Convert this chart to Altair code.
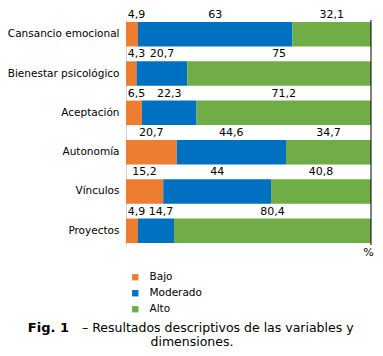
import altair as alt
import pandas as pd

categorias = ["Cansancio emocional", "Bienestar psicológico", "Aceptación",
              "Autonomía", "Vínculos", "Proyectos"]
niveles = ["Bajo", "Moderado", "Alto"]
bajo = [4.9, 4.3, 6.5, 20.7, 15.2, 4.9]
moderado = [63, 20.7, 22.3, 44.6, 44, 14.7]
alto = [32.1, 75, 71.2, 34.7, 40.8, 80.4]
colores = ["#ED7D31", "#0070C0", "#70AD47"]
caption_bold = "Fig. 1"
caption_line1 = "– Resultados descriptivos de las variables y"
caption_line2 = "dimensiones."

FONT = "DejaVu Sans"


def fmt(v):
    return f"{v:g}".replace(".", ",")


rows = []
for i, c in enumerate(categorias):
    start = 0.0
    prev = -100.0
    for j, (n, v) in enumerate(zip(niveles, [bajo[i], moderado[i], alto[i]])):
        mid = start + v / 2
        lab = max(mid, 4.3, prev + 10)
        rows.append(dict(cat=c, nivel=n, orden=j, valor=v, x0=start,
                         x1=start + v, lx=lab, txt=fmt(v)))
        prev = lab
        start += v
df = pd.DataFrame(rows)

yscale = alt.Scale(domain=categorias, range=[12, 237], paddingInner=0.377,
                   paddingOuter=0.051)
xscale = alt.Scale(domain=[0, 100], nice=False, zero=True)

base = alt.Chart(df)

bars = base.mark_bar(size=24.5).encode(
    y=alt.Y("cat:N", scale=yscale, sort=categorias,
            axis=alt.Axis(title=None, ticks=False, tickSize=0, labelPadding=7,
                          domainColor="#d0d0d0", labelFont=FONT,
                          labelFontSize=10.5, labelColor="#000000")),
    x=alt.X("x0:Q", scale=xscale, axis=None),
    x2="x1:Q",
    color=alt.Color("nivel:N",
                    scale=alt.Scale(domain=niveles, range=colores),
                    legend=alt.Legend(title=None, orient="none", legendX=4,
                                      legendY=264, direction="vertical",
                                      symbolType="square", symbolSize=40,
                                      symbolStrokeWidth=0,
                                      labelFont=FONT, labelFontSize=10.5,
                                      labelColor="#000000", labelOffset=9,
                                      rowPadding=5, padding=0, offset=0)),
)

labels = base.mark_text(font=FONT, fontSize=11, color="#000000",
                        baseline="middle", dy=-7).encode(
    y=alt.Y("cat:N", scale=yscale, sort=categorias, bandPosition=0),
    x=alt.X("lx:Q", scale=xscale),
    text="txt:N",
)

border = alt.Chart(pd.DataFrame({"v": [100]})).mark_rule(
    color="#000000", strokeWidth=1).encode(
    x=alt.X("v:Q", scale=xscale), y=alt.value(12), y2=alt.value(237))

pct = alt.Chart(pd.DataFrame({"t": ["%"]})).mark_text(
    font=FONT, fontSize=11, color="#000000", baseline="middle").encode(
    x=alt.value(242.5), y=alt.value(245), text="t:N")

cap_b = alt.Chart(pd.DataFrame({"t": [caption_bold]})).mark_text(
    font=FONT, fontSize=13, fontWeight="bold", color="#000000",
    baseline="middle", align="right").encode(
    x=alt.value(-57), y=alt.value(320), text="t:N")

cap_1 = alt.Chart(pd.DataFrame({"t": [caption_line1]})).mark_text(
    font=FONT, fontSize=12.5, color="#000000",
    baseline="middle", align="left").encode(
    x=alt.value(-44), y=alt.value(320), text="t:N")

cap_2 = alt.Chart(pd.DataFrame({"t": [caption_line2]})).mark_text(
    font=FONT, fontSize=12.5, color="#000000",
    baseline="middle", align="center").encode(
    x=alt.value(66), y=alt.value(334), text="t:N")

chart = alt.layer(bars, labels, border, pct, cap_b, cap_1, cap_2).properties(
    width=245, height=237,
    autosize=alt.AutoSizeParams(type="none"),
    padding={"left": 118, "top": 0, "right": 4, "bottom": 103},
).configure_view(stroke=None)

chart.save("out.html", embed_options={"renderer": "svg", "actions": False})
